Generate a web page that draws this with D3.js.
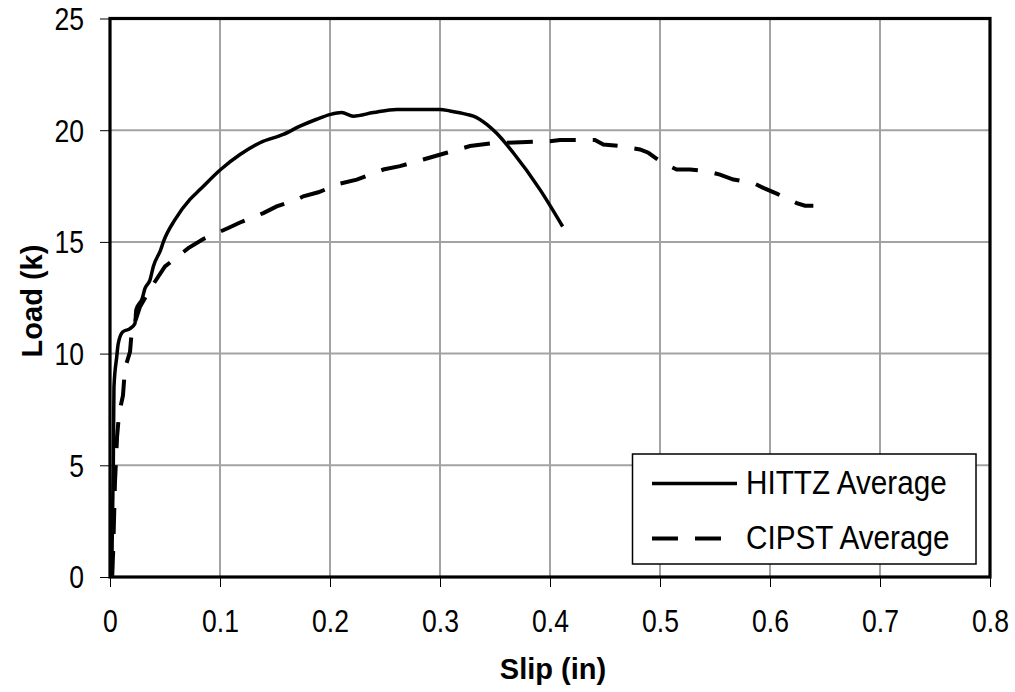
<!DOCTYPE html>
<html>
<head>
<meta charset="utf-8">
<script src="https://cdn.jsdelivr.net/npm/d3@7"></script>
<style>
  html, body { margin: 0; padding: 0; background: #fff; }
  svg { display: block; }
  text { font-family: "Liberation Sans", Arial, sans-serif; fill: #000; }
</style>
</head>
<body>
<svg id="chart" width="1015" height="692"></svg>
<script>
// Load–slip averages for the two connector types (slip in inches, load in kips)
const hittzSlip = [0.0015, 0.003, 0.0036, 0.0061, 0.0075, 0.0115, 0.0182, 0.0227, 0.0236, 0.0266,
  0.0288, 0.0318, 0.0364, 0.0394, 0.0461, 0.0485, 0.0591, 0.0727, 0.0818, 0.1006,
  0.1182, 0.1364, 0.1575, 0.1727, 0.1879, 0.2006, 0.2106, 0.2212, 0.2394, 0.2606,
  0.3, 0.309, 0.3243, 0.3303, 0.3425, 0.3515, 0.3666, 0.3909, 0.4115];
const hittzLoad = [0, 5.0, 8.5, 9.85, 10.45, 10.97, 11.12, 11.35, 11.95, 12.25,
  12.4, 12.92, 13.3, 13.9, 14.65, 15.0, 16.0, 16.9, 17.34, 18.24,
  18.91, 19.44, 19.81, 20.18, 20.49, 20.71, 20.79, 20.63, 20.79, 20.93,
  20.93, 20.86, 20.71, 20.63, 20.26, 19.86, 18.99, 17.34, 15.69];

const cipstSlip = [0.002, 0.003, 0.0045, 0.0064, 0.0082, 0.0118, 0.0136, 0.0182, 0.0197, 0.0273,
  0.0379, 0.05, 0.0712, 0.0848, 0.1075, 0.1182, 0.1394, 0.1515, 0.1697, 0.1757,
  0.1894, 0.2091, 0.2243, 0.2485, 0.2636, 0.2848, 0.3061, 0.3273, 0.3485, 0.4,
  0.4091, 0.4409, 0.4485, 0.4636, 0.4818, 0.4894, 0.503, 0.5152, 0.5273, 0.5425,
  0.5545, 0.5667, 0.5848, 0.5939, 0.6061, 0.6243, 0.6318, 0.6394];
const cipstLoad = [0, 1.32, 4.2, 6.26, 7.3, 8.13, 9.33, 10.08, 10.97, 12.1,
  13.0, 13.9, 14.72, 15.13, 15.62, 15.87, 16.29, 16.59, 16.89, 17.04,
  17.22, 17.61, 17.79, 18.24, 18.39, 18.69, 18.99, 19.29, 19.42, 19.51,
  19.56, 19.56, 19.36, 19.29, 19.14, 18.99, 18.51, 18.24, 18.24, 18.16,
  18.01, 17.79, 17.64, 17.42, 17.16, 16.74, 16.62, 16.62];

const xTicks = [0, 0.1, 0.2, 0.3, 0.4, 0.5, 0.6, 0.7, 0.8];
const yTicks = [0, 5, 10, 15, 20, 25];
const seriesNames = ["HITTZ Average", "CIPST Average"];
const xTitle = "Slip (in)";
const yTitle = "Load (k)";

const svg = d3.select("#chart");
const plot = { left: 110, right: 990, top: 18.5, bottom: 577 };
const squeeze = 0.87;   // horizontal condensing of the regular-weight labels

const x = d3.scaleLinear().domain([0, 0.8]).range([plot.left, plot.right]);
const y = d3.scaleLinear().domain([0, 25]).range([plot.bottom, plot.top]);

// Grid lines
const grid = svg.append("g").attr("stroke", "#a3a3a3").attr("stroke-width", 2);
grid.selectAll(".gx").data(xTicks.slice(1, -1)).join("line")
  .attr("x1", d => x(d)).attr("x2", d => x(d))
  .attr("y1", plot.top).attr("y2", plot.bottom);
grid.selectAll(".gy").data(yTicks.slice(1, -1)).join("line")
  .attr("x1", plot.left).attr("x2", plot.right)
  .attr("y1", d => y(d)).attr("y2", d => y(d));

// Axes with outward ticks
const xAxis = d3.axisBottom(x).tickValues(xTicks).tickSize(10).tickPadding(0)
  .tickFormat(d => d === 0 ? "0" : d3.format(".1f")(d));
const gx = svg.append("g").attr("transform", `translate(0,${plot.bottom})`).call(xAxis);
gx.select(".domain").remove();
gx.selectAll(".tick line").attr("stroke", "#000").attr("stroke-width", 1);
gx.selectAll(".tick text").attr("font-size", 30.5).attr("y", 55.5).attr("dy", 0)
  .attr("transform", `scale(${squeeze},1)`)
  .attr("font-family", "Liberation Sans, Arial, sans-serif");

const yAxis = d3.axisLeft(y).tickValues(yTicks).tickSize(10).tickPadding(16);
const gy = svg.append("g").attr("transform", `translate(${plot.left},0)`).call(yAxis);
gy.select(".domain").remove();
gy.selectAll(".tick line").attr("stroke", "#000").attr("stroke-width", 1);
gy.selectAll(".tick text").attr("font-size", 30.5).attr("dy", "0.36em")
  .attr("x", -26 / squeeze)
  .attr("transform", `scale(${squeeze},1)`)
  .attr("font-family", "Liberation Sans, Arial, sans-serif");

// Plot frame
svg.append("rect")
  .attr("x", plot.left).attr("y", plot.top)
  .attr("width", plot.right - plot.left).attr("height", plot.bottom - plot.top)
  .attr("fill", "none").attr("stroke", "#000").attr("stroke-width", 3.2);

// Series
const hittz = hittzSlip.map((s, i) => [s, hittzLoad[i]]);
const cipst = cipstSlip.map((s, i) => [s, cipstLoad[i]]);
const smoothLine = d3.line().x(d => x(d[0])).y(d => y(d[1])).curve(d3.curveMonotoneX);
const straightLine = d3.line().x(d => x(d[0])).y(d => y(d[1]));

svg.append("path").datum(cipst)
  .attr("d", straightLine).attr("fill", "none").attr("stroke", "#000")
  .attr("stroke-width", 4).attr("stroke-dasharray", "26,17");
svg.append("path").datum(hittz)
  .attr("d", smoothLine).attr("fill", "none").attr("stroke", "#000")
  .attr("stroke-width", 3.5).attr("stroke-linejoin", "round");

// Axis titles
svg.append("text").attr("x", 553).attr("y", 679)
  .attr("text-anchor", "middle").attr("font-size", 29).attr("font-weight", "bold")
  .text(xTitle);
svg.append("text")
  .attr("transform", "translate(42,301) rotate(-90)")
  .attr("text-anchor", "middle").attr("font-size", 29).attr("font-weight", "bold")
  .text(yTitle);

// Legend
const legend = svg.append("g");
legend.append("rect").attr("x", 632.5).attr("y", 454)
  .attr("width", 343.5).attr("height", 110)
  .attr("fill", "#fff").attr("stroke", "#000").attr("stroke-width", 1.5);
const legendRows = [
  { name: seriesNames[0], y: 483.5, dash: null, w: 3.5 },
  { name: seriesNames[1], y: 538.5, dash: "26,17", w: 4 }
];
legendRows.forEach(r => {
  legend.append("line").attr("x1", 652).attr("x2", r.dash ? 723 : 737)
    .attr("y1", r.y).attr("y2", r.y)
    .attr("stroke", "#000").attr("stroke-width", r.w)
    .attr("stroke-dasharray", r.dash);
  legend.append("text")
    .attr("transform", `translate(746,${r.y + 10}) scale(0.9,1)`)
    .attr("font-size", 33).text(r.name);
});
</script>
</body>
</html>
